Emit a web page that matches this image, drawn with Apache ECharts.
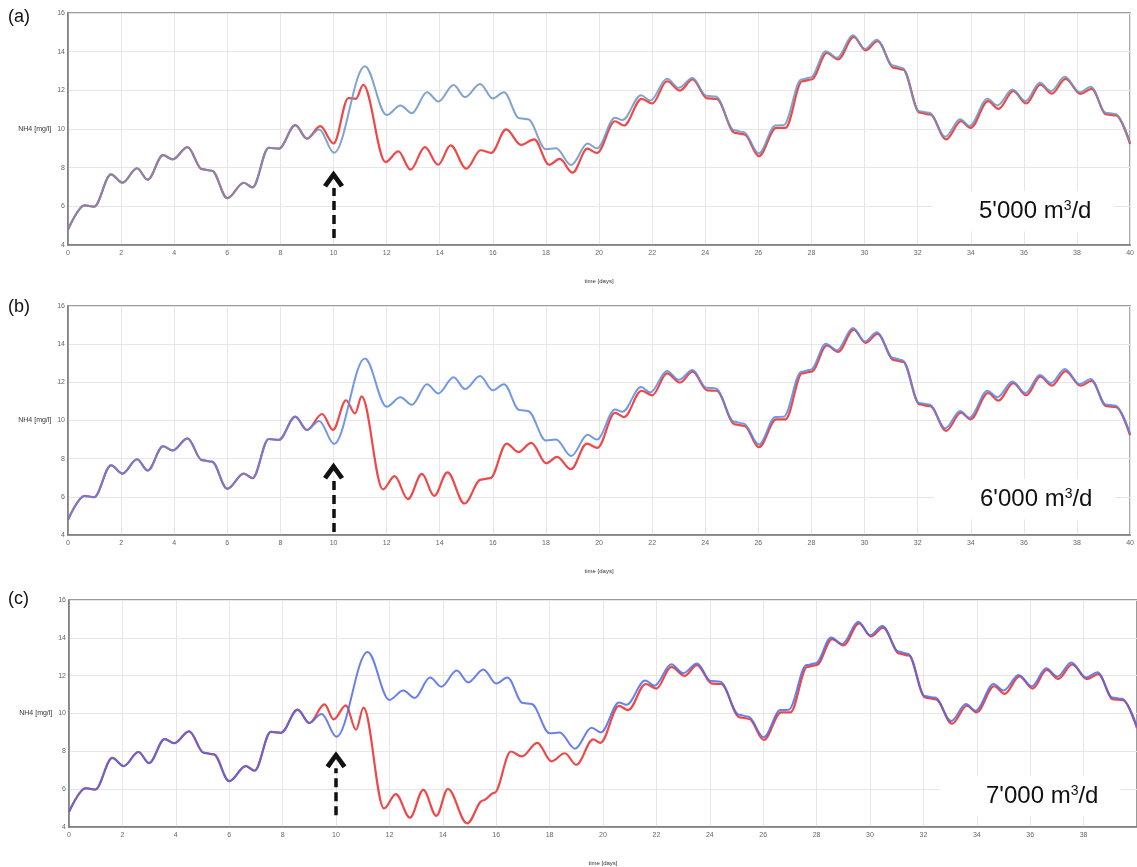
<!DOCTYPE html>
<html>
<head>
<meta charset="utf-8">
<script src="https://cdn.jsdelivr.net/npm/echarts/dist/echarts.min.js"></script>
<style>
  html, body { margin: 0; padding: 0; background: #fff; }
  #chart { width: 1137px; height: 867px; }
</style>
</head>
<body>
<div id="chart"></div>
<script>
// NH4 concentration [mg/l] over 40 days, [time in days, value] at the
// peaks, troughs and shoulders of each curve.

// Part shared by every curve up to day 9
const commonHead = [
  [0, 4.8], [0.62, 6.05], [0.98, 5.98], [1.62, 7.65], [2.05, 7.22], [2.6, 7.97],
  [3.0, 7.38], [3.58, 8.65], [3.94, 8.43], [4.5, 9.06], [5.05, 7.92], [5.42, 7.84],
  [6.0, 6.42], [6.62, 7.22], [6.95, 6.98], [7.56, 9.03], [7.94, 8.98], [8.56, 10.2],
  [9.0, 9.5]
];

// Blue curve after day 9 (same in all three panels)
const blueTail = [
  [9.46, 9.98], [10.02, 8.77], [11.18, 13.25], [12.0, 10.72], [12.52, 11.22],
  [12.95, 10.82], [13.52, 11.9], [13.95, 11.42], [14.52, 12.27], [14.95, 11.65],
  [15.52, 12.33], [16.0, 11.58], [16.42, 11.9], [17.0, 10.55], [17.32, 10.5],
  [18.0, 8.95], [18.38, 9.0], [18.95, 8.14], [19.57, 9.25], [19.92, 9.0],
  [20.6, 10.58], [20.88, 10.46], [21.58, 11.75], [21.93, 11.47], [22.56, 12.6],
  [23.0, 12.13], [23.52, 12.64], [24.04, 11.72], [24.39, 11.68], [25.09, 9.94],
  [25.44, 9.84], [26.02, 8.74], [26.64, 10.18], [26.95, 10.2], [27.62, 12.56],
  [27.97, 12.66], [28.54, 14.02], [28.96, 13.68], [29.56, 14.85], [30.01, 14.14],
  [30.46, 14.62], [31.07, 13.28], [31.42, 13.16], [32.05, 10.92], [32.43, 10.84],
  [33.04, 9.6], [33.6, 10.5], [33.95, 10.15], [34.63, 11.56], [35.0, 11.22],
  [35.57, 12.04], [36.06, 11.44], [36.6, 12.39], [37.02, 11.96], [37.54, 12.7],
  [38.1, 11.9], [38.52, 12.18], [39.08, 10.84], [39.44, 10.78], [40, 9.3]
];

// Red curve, days 9-20, for 5'000, 6'000 and 7'000 m3/d
const redMidA = [
  [9.5, 10.15], [10.0, 9.25], [10.56, 11.6], [10.84, 11.56], [11.12, 12.28],
  [11.96, 8.29], [12.44, 8.84], [12.9, 7.9], [13.44, 9.06], [13.94, 8.15],
  [14.41, 9.15], [15.0, 7.95], [15.54, 8.9], [15.94, 8.77], [16.5, 9.98],
  [17.06, 9.18], [17.56, 9.46], [18.12, 8.15], [18.52, 8.45], [19.0, 7.74],
  [19.56, 8.98], [19.92, 8.76]
];
const redMidB = [
  [9.57, 10.34], [9.98, 9.51], [10.47, 11.06], [10.81, 10.37], [11.06, 11.26],
  [11.86, 6.39], [12.3, 7.08], [12.8, 5.88], [13.33, 7.2], [13.79, 6.05],
  [14.29, 7.28], [14.93, 5.65], [15.55, 6.9], [15.9, 6.98], [16.52, 8.79],
  [16.96, 8.35], [17.45, 8.83], [18.01, 7.76], [18.42, 8.09], [18.94, 7.45],
  [19.54, 8.79], [19.94, 8.57]
];
const redMidC = [
  [9.57, 10.48], [9.91, 9.69], [10.37, 10.43], [10.75, 9.14], [11.03, 10.31],
  [11.8, 4.98], [12.24, 5.74], [12.77, 4.5], [13.27, 5.96], [13.76, 4.59],
  [14.19, 6.01], [14.91, 4.19], [15.5, 5.4], [15.93, 5.8], [16.55, 7.99],
  [16.96, 7.73], [17.54, 8.45], [18.07, 7.47], [18.57, 7.9], [19.0, 7.29],
  [19.63, 8.63], [19.9, 8.45]
];

// Red curve from day 20 onwards
const redTail = [
  [20.6, 10.4], [20.94, 10.18], [21.6, 11.56], [22.0, 11.32], [22.56, 12.47],
  [23.05, 11.99], [23.52, 12.56], [24.08, 11.58], [24.42, 11.56], [25.12, 9.8],
  [25.47, 9.72], [26.02, 8.6], [26.67, 10.06], [27.02, 10.06], [27.65, 12.47],
  [28.0, 12.56], [28.58, 13.93], [29.0, 13.6], [29.59, 14.76], [30.04, 14.07],
  [30.49, 14.54], [31.11, 13.16], [31.45, 13.07], [32.08, 10.84], [32.47, 10.75],
  [33.07, 9.46], [33.63, 10.41], [33.99, 10.06], [34.65, 11.44], [35.04, 11.04],
  [35.6, 11.96], [36.09, 11.32], [36.62, 12.3], [37.05, 11.83], [37.57, 12.59],
  [38.13, 11.82], [38.55, 12.08], [39.11, 10.75], [39.47, 10.7], [40, 9.22]
];

// Panel texts
const panelTags = ['(a)', '(b)', '(c)'];
const flowRates = ["5'000", "6'000", "7'000"];
const yTicks = { min: 4, max: 16, step: 2 };
const xTicks = { min: 0, max: 40, step: 2 };
const eventDay = 10;

const blue = commonHead.concat(blueTail);
const reds = [
  commonHead.concat(redMidA, redTail),
  commonHead.concat(redMidB, redTail),
  commonHead.concat(redMidC, redTail)
];

// Layout and styling of each panel
const layout = [
  { grid: { left: 68, top: 13, width: 1066, height: 232 }, blueColor: '#6b93c4',
    arrow: [4.36, 6.95, 7.41], tagTop: 8, box: { left: 933, top: 191 }, lastLabel: true },
  { grid: { left: 68, top: 306, width: 1063, height: 229 }, blueColor: '#5b86e4',
    arrow: [4.16, 6.88, 7.35], tagTop: 298, box: { left: 934, top: 479 }, lastLabel: true },
  { grid: { left: 69, top: 600, width: 1071, height: 233 }, blueColor: '#4f6ae6',
    arrow: [4.62, 7.1, 7.56], tagTop: 590, box: { left: 940, top: 776 }, lastLabel: false }
];

const chevron = 'path://M0,9 L6,0 L12,9 L9.7,10.6 L6,4.9 L2.3,10.6 Z';
const axisFont = 'Liberation Sans';

const grids = [], xAxes = [], yAxes = [], series = [], titles = [];

layout.forEach((p, i) => {
  grids.push(Object.assign({
    show: true, borderColor: '#7a7a7a', borderWidth: 1.5, backgroundColor: '#fff'
  }, p.grid));

  xAxes.push({
    type: 'value', gridIndex: i, min: xTicks.min, max: xTicks.max, interval: xTicks.step,
    name: 'time [days]', nameLocation: 'middle', nameGap: 33,
    nameTextStyle: { fontSize: 6, color: '#333', fontFamily: axisFont },
    axisLine: { show: true, lineStyle: { color: '#7a7a7a', width: 1.5 } },
    axisTick: { show: false },
    axisLabel: { fontSize: 7, color: '#666', margin: 5, fontFamily: axisFont, showMaxLabel: p.lastLabel },
    splitLine: { show: true, lineStyle: { color: '#e6e6e6', width: 1 } }
  });

  yAxes.push({
    type: 'value', gridIndex: i, min: yTicks.min, max: yTicks.max, interval: yTicks.step,
    name: 'NH4 [mg/l]', nameLocation: 'middle', nameRotate: 0, nameGap: 14,
    nameTextStyle: { fontSize: 7, color: '#333', fontFamily: axisFont },
    axisLine: { show: true, lineStyle: { color: '#7a7a7a', width: 1.5 } },
    axisTick: { show: false },
    axisLabel: { fontSize: 7, color: '#666', margin: 3, fontFamily: axisFont },
    splitLine: { show: true, lineStyle: { color: '#e6e6e6', width: 1 } }
  });

  series.push({
    type: 'line', xAxisIndex: i, yAxisIndex: i, data: reds[i],
    showSymbol: false, smooth: 0.35, smoothMonotone: 'x', z: 2,
    lineStyle: { color: '#ee4848', width: 2.2 }, emphasis: { disabled: true }
  });

  series.push({
    type: 'line', xAxisIndex: i, yAxisIndex: i, data: blue,
    showSymbol: false, smooth: 0.35, smoothMonotone: 'x', z: 3,
    lineStyle: { color: p.blueColor, width: 2, opacity: 0.85 }, emphasis: { disabled: true },
    markLine: {
      silent: true, symbol: ['none', 'none'], label: { show: false },
      lineStyle: { color: '#111', width: 3.5, type: [9, 5] },
      emphasis: { disabled: true },
      data: [[{ coord: [eventDay, p.arrow[0]] }, { coord: [eventDay, p.arrow[1]] }]]
    },
    markPoint: {
      silent: true, symbol: chevron, symbolSize: [21, 17],
      itemStyle: { color: '#111' }, label: { show: false },
      data: [{ coord: [eventDay, p.arrow[2]] }]
    }
  });

  titles.push({
    text: panelTags[i], left: 8, top: p.tagTop, padding: 0,
    textStyle: { fontSize: 18, fontWeight: 'normal', color: '#111', fontFamily: axisFont }
  });

  titles.push({
    text: flowRates[i] + ' m{s|3}/d', left: p.box.left, top: p.box.top,
    padding: [8, 22, 8, 46], backgroundColor: '#fff',
    textStyle: {
      fontSize: 24, fontWeight: 'normal', color: '#111', fontFamily: axisFont,
      rich: { s: { fontSize: 14, color: '#111', fontFamily: axisFont, padding: [0, 0, 11, 0] } }
    }
  });
});

const chart = echarts.init(document.getElementById('chart'), null, { renderer: 'canvas' });
chart.setOption({
  animation: false,
  backgroundColor: '#fff',
  title: titles,
  grid: grids,
  xAxis: xAxes,
  yAxis: yAxes,
  series: series
});
</script>
</body>
</html>
